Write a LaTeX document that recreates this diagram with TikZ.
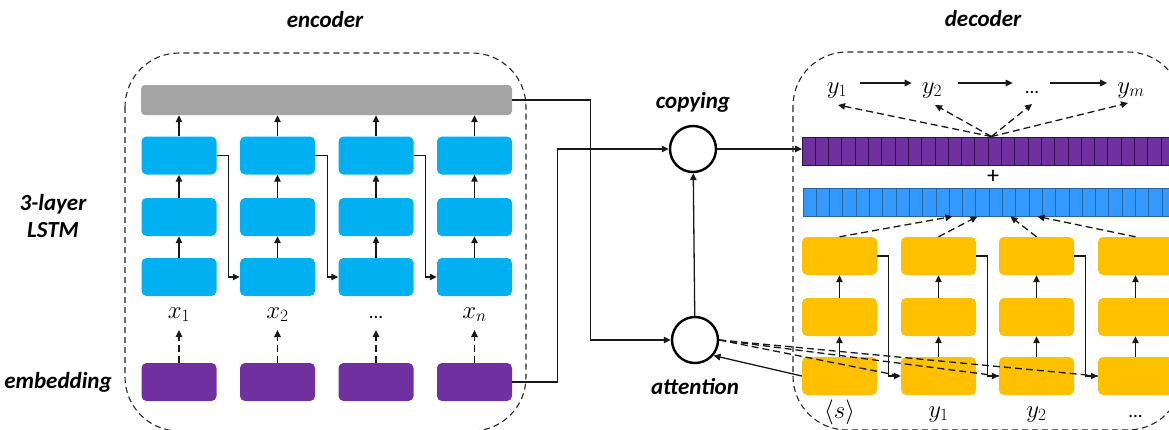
\documentclass[tikz,border=0pt]{standalone}
\usepackage{fontspec}
\setmainfont{Carlito}
\usetikzlibrary{arrows.meta,calc}
\definecolor{encblue}{HTML}{00B0F0}
\definecolor{embpurple}{HTML}{7030A0}
\definecolor{graybar}{HTML}{A5A5A5}
\definecolor{decyellow}{HTML}{FFC000}
\definecolor{barblue}{HTML}{3399FF}
\definecolor{barblueline}{HTML}{2A64A8}
\definecolor{barpurpleline}{HTML}{2E1446}
\begin{document}
\begin{tikzpicture}[x=1pt,y=-1pt,
  cell/.style={rectangle, rounded corners=5pt, minimum width=75pt, minimum height=38pt, inner sep=0pt, draw=none},
  lstm/.style={cell, fill=encblue},
  emb/.style={cell, fill=embpurple},
  dec/.style={cell, fill=decyellow},
  conn/.style={line width=1.3pt, draw=black!90},
  arr/.style={conn, -{Triangle[length=7pt,width=6.5pt]}},
  darr/.style={conn, dash pattern=on 7pt off 4pt, -{Triangle[length=7pt,width=6.5pt]}},
  dline/.style={conn, dash pattern=on 7pt off 4pt},
  region/.style={draw=black!85, line width=1.1pt, dash pattern=on 6pt off 4pt, rounded corners=54pt},
  title/.style={font=\fontsize{23}{27}\selectfont\bfseries\itshape, inner sep=0pt},
  op/.style={circle, draw=black, line width=2.4pt, minimum size=46pt, inner sep=0pt},
  mlab/.style={font=\fontsize{25}{28}\selectfont, inner sep=0pt, anchor=base},
  dots/.style={font=\fontsize{19}{22}\selectfont, inner sep=0pt, anchor=base},
  bar/.style={rectangle, minimum width=378pt, minimum height=28pt, inner sep=0pt, anchor=west, line width=0.9pt},
]
\useasboundingbox (0,0) rectangle (1169,429);
\clip (0,0) rectangle (1169,429);

% regions
\draw[region] (125,53) rectangle (526,431);
\draw[region] (793,52) rectangle (1182,430);

% titles
\node[title] (enc) at (325,20) {encoder};
\node[title] (decl) at (983,19) {decoder};
\node[title, align=center] (lstmlab) at (53,216) {3-layer\\LSTM};
\node[title] (emblab) at (58,382) {embedding};
\node[title] (copl) at (693,102) {copying};
\node[title] (attl) at (695,387) {attention};

% encoder
\node[cell, fill=graybar, minimum width=371pt, minimum height=30pt, rounded corners=4pt] (G) at (326.5,100) {};
\foreach \c/\x in {a/179,b/277.5,c/376,d/474.5} {
  \node[lstm] (E1\c) at (\x,155.5) {};
  \node[lstm] (E2\c) at (\x,217) {};
  \node[lstm] (E3\c) at (\x,277) {};
  \node[emb] (P\c) at (\x,382) {};
}
\node[mlab] (Xa) at (179,318) {$x_1$};
\node[mlab] (Xb) at (277.5,318) {$x_2$};
\node[dots] (Xc) at (376,318) {...};
\node[mlab] (Xd) at (474.5,318) {$x_n$};

\foreach \c in {a,b,c,d} {
  \draw[arr] (E3\c) -- (E2\c);
  \draw[arr] (E2\c) -- (E1\c);
  \draw[arr] (E1\c) -- (E1\c |- G.south);
  \draw[darr] (P\c.north) -- (P\c.north |- 0,330);
}
\draw[arr] (E1a.east) -- ++(12,0) |- (E3b.west);
\draw[arr] (E1b.east) -- ++(12,0) |- (E3c.west);
\draw[arr] (E1c.east) -- ++(12,0) |- (E3d.west);

% operators
\node[op] (cop) at (693,149) {};
\node[op] (att) at (695,340) {};

% decoder
\node[bar, fill=embpurple, draw=barpurpleline] (PB) at (802,151) {};
\foreach \i in {1,...,28}
  \draw[barpurpleline, line width=0.9pt] ($(PB.north west)+({\i*13.3},0)$) -- ($(PB.south west)+({\i*13.3},0)$);
\node[font=\fontsize{24}{26}\selectfont, inner sep=0pt] (plus) at (993,177) {+};
\node[bar, fill=barblue, draw=barblueline] (BB) at (803,202) {};
\foreach \i in {1,...,28}
  \draw[barblueline, line width=0.9pt] ($(BB.north west)+({\i*13.3},0)$) -- ($(BB.south west)+({\i*13.3},0)$);

\foreach \c/\x in {a/839.5,b/938.5,c/1036.5,d/1135.5} {
  \node[dec] (D1\c) at (\x,256) {};
  \node[dec] (D2\c) at (\x,317) {};
  \node[dec] (D3\c) at (\x,376) {};
}
\node[mlab] (La) at (839.5,418) {$\langle s\rangle$};
\node[mlab] (Lb) at (938.5,417) {$y_1$};
\node[mlab] (Lc) at (1036.5,417) {$y_2$};
\node[dots] (Ld) at (1135.5,417) {...};

\node[mlab] (Y1) at (837,93) {$y_1$};
\node[mlab] (Y2) at (932,93) {$y_2$};
\node[dots] (Y3) at (1032,93) {...};
\node[mlab] (Ym) at (1131,93) {$y_m$};

\draw[arr, shorten <=13pt, shorten >=10pt] ([yshift=10pt]Y1.base east) -- ([yshift=10pt]Y2.base west);
\draw[arr, shorten <=16pt, shorten >=12pt] ([yshift=10pt]Y2.base east) -- ([yshift=10pt]Y3.base west);
\draw[arr, shorten <=11pt, shorten >=10pt] ([yshift=10pt]Y3.base east) -- ([yshift=10pt]Ym.base west);

\draw[darr] (PB.north) -- ([xshift=1pt,yshift=-12pt]Y1.base);
\draw[darr] (PB.north) -- ([xshift=3pt,yshift=-12pt]Y2.base);
\draw[darr] (PB.north) -- ([yshift=-11pt]Y3.base);
\draw[darr] (PB.north) -- ([xshift=-3pt,yshift=-10pt]Ym.base);

\foreach \c in {a,b,c,d} {
  \draw[arr] (D3\c) -- (D2\c);
  \draw[arr] (D2\c) -- (D1\c);
}
\draw[arr] (D1a.east) -- ++(11,0) |- (D3b.west);
\draw[arr] (D1b.east) -- ++(11,0) |- (D3c.west);
\draw[arr] (D1c.east) -- ++(11,0) |- (D3d.west);

\draw[darr] (D1a.north) -- ([xshift=-40pt]BB.south);
\draw[darr] (D1b.north) -- ([xshift=-15pt]BB.south);
\draw[darr] (D1c.north) -- ([xshift=18pt]BB.south);
\draw[darr] (D1d.north) -- ([xshift=45pt]BB.south);

% connections between parts
\draw[arr] (G.east) -- ++(78,0) |- (att.west);
\draw[arr] (Pd.east) -- ++(45,0) |- (cop.west);
\draw[arr] (cop.east) -- (cop.east -| PB.west);
\draw[arr] (att) -- (cop);
\draw[arr] (D3a.west) -- (att.-40);
\draw[dline] (att.east) -- (D3b.west);
\draw[dline] (att.east) -- (D3c.west);
\draw[dline] (att.east) -- (D3d.west);
\end{tikzpicture}
\end{document}
